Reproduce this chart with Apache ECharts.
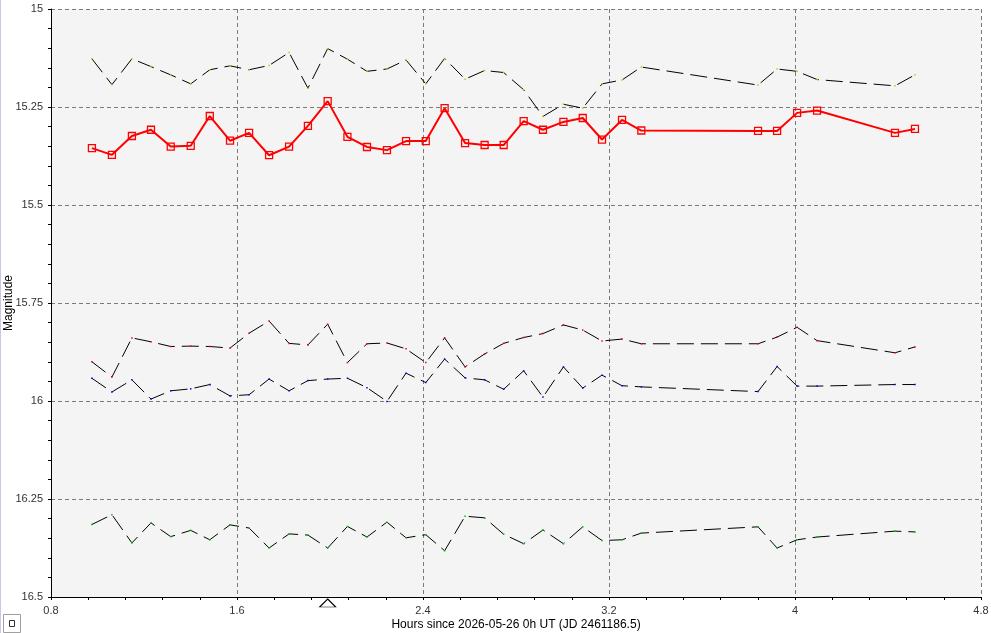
<!DOCTYPE html>
<html>
<head>
<meta charset="utf-8">
<script src="https://cdn.jsdelivr.net/npm/echarts@6/dist/echarts.min.js"></script>
<style>
  html, body { margin: 0; padding: 0; background: #ffffff; }
  #chart { width: 991px; height: 633px; }
</style>
</head>
<body>
<div id="chart"></div>
<script>
// hours since 2026-05-26 0h UT
const hours = [0.976, 1.062, 1.148, 1.230, 1.315, 1.401, 1.483, 1.570, 1.652, 1.738, 1.824, 1.905,
  1.990, 2.075, 2.159, 2.245, 2.327, 2.412, 2.493, 2.581, 2.665, 2.747, 2.833, 2.916,
  3.004, 3.087, 3.170, 3.256, 3.339, 3.841, 3.923, 4.009, 4.095, 4.430, 4.516];

// target star (red)
const target = [15.355, 15.372, 15.324, 15.308, 15.351, 15.349, 15.273, 15.336, 15.316, 15.373, 15.351, 15.298,
  15.235, 15.326, 15.352, 15.360, 15.337, 15.337, 15.253, 15.342, 15.347, 15.347, 15.286, 15.308,
  15.288, 15.278, 15.333, 15.283, 15.310, 15.311, 15.311, 15.265, 15.259, 15.316, 15.306];

// comparison / check stars
const comp1 = [15.127, 15.193, 15.127, 15.147, 15.168, 15.191, 15.155, 15.145, 15.155, 15.144, 15.111, 15.202,
  15.101, 15.128, 15.159, 15.153, 15.130, 15.191, 15.126, 15.179, 15.157, 15.162, 15.206, 15.274,
  15.243, 15.253, 15.191, 15.181, 15.148, 15.194, 15.153, 15.159, 15.180, 15.196, 15.168];
const comp2 = [15.900, 15.939, 15.839, 15.849, 15.861, 15.860, 15.861, 15.865, 15.827, 15.796, 15.853, 15.857,
  15.804, 15.902, 15.854, 15.852, 15.867, 15.902, 15.839, 15.913, 15.880, 15.853, 15.838, 15.828,
  15.806, 15.819, 15.847, 15.842, 15.854, 15.854, 15.837, 15.812, 15.846, 15.877, 15.862];
const comp3 = [15.942, 15.977, 15.946, 15.995, 15.974, 15.969, 15.958, 15.987, 15.984, 15.944, 15.974, 15.948,
  15.944, 15.942, 15.966, 16.001, 15.929, 15.953, 15.893, 15.941, 15.946, 15.970, 15.923, 15.990,
  15.913, 15.967, 15.934, 15.961, 15.964, 15.976, 15.912, 15.962, 15.962, 15.958, 15.958];
const comp4 = [16.315, 16.290, 16.362, 16.311, 16.346, 16.330, 16.354, 16.316, 16.324, 16.375, 16.339, 16.342,
  16.375, 16.320, 16.347, 16.309, 16.349, 16.341, 16.382, 16.294, 16.298, 16.340, 16.364, 16.329,
  16.364, 16.321, 16.356, 16.354, 16.337, 16.321, 16.375, 16.354, 16.347, 16.332, 16.334];

const markerHour = 1.99;

function pairs(ys) {
  return hours.map((h, i) => [h, ys[i]]);
}

function compSeries(ys, dotColor) {
  return {
    type: "line",
    data: pairs(ys),
    symbol: "rect",
    symbolSize: 1.5,
    showAllSymbol: true,
    silent: true,
    itemStyle: { color: dotColor },
    lineStyle: { color: "#000000", width: 1, type: [17, 7] },
  };
}

const chart = echarts.init(document.getElementById("chart"));

const font = "Liberation Sans, Arial, sans-serif";

let option = {
  animation: false,
  backgroundColor: "#ffffff",
  grid: {
    left: 51,
    right: 10,
    top: 9,
    bottom: 36,
    containLabel: false,
    outerBoundsMode: "none",
    show: true,
    backgroundColor: "#f4f4f4",
    borderWidth: 0,
  },
  xAxis: {
    type: "value",
    min: 0.8,
    max: 4.8,
    interval: 0.8,
    name: "Hours since 2026-05-26 0h UT (JD 2461186.5)",
    nameLocation: "middle",
    nameGap: 22,
    nameMoveOverlap: false,
    nameTextStyle: { color: "#000", fontSize: 12, fontFamily: font, verticalAlign: "top" },
    axisLine: { show: true, onZero: false, lineStyle: { color: "#000", width: 1 } },
    axisTick: { show: true, length: 3, lineStyle: { color: "#000" } },
    minorTick: { show: true, splitNumber: 5, length: 3, lineStyle: { color: "#000" } },
    axisLabel: { color: "#333", fontSize: 11, fontFamily: font, margin: 8 },
    splitLine: { show: true, lineStyle: { color: "#7a7a7a", width: 1, type: [4, 3] } },
  },
  yAxis: {
    type: "value",
    inverse: true,
    min: 15,
    max: 16.5,
    interval: 0.25,
    name: "Magnitude",
    nameLocation: "middle",
    nameGap: 42,
    nameMoveOverlap: false,
    nameTextStyle: { color: "#000", fontSize: 12, fontFamily: font, verticalAlign: "middle" },
    axisLine: { show: true, onZero: false, lineStyle: { color: "#000", width: 1 } },
    axisTick: { show: true, length: 3, lineStyle: { color: "#000" } },
    minorTick: { show: true, splitNumber: 5, length: 3, lineStyle: { color: "#000" } },
    axisLabel: { color: "#333", fontSize: 11, fontFamily: font, margin: 8 },
    splitLine: { show: true, lineStyle: { color: "#7a7a7a", width: 1, type: [4, 3] } },
  },
  graphic: [
    {
      type: "line",
      shape: { x1: 0.5, y1: 0, x2: 0.5, y2: 633 },
      style: { stroke: "#c9c9e0", lineWidth: 1 },
    },
    {
      type: "rect",
      shape: { x: 3.5, y: 614.5, width: 17, height: 18 },
      style: { fill: "#ffffff", stroke: "#a0a0a0", lineWidth: 1 },
    },
    {
      type: "rect",
      shape: { x: 9.5, y: 620.5, width: 5, height: 6 },
      style: { fill: "none", stroke: "#333", lineWidth: 1 },
    },
  ],
  series: [
    compSeries(comp1, "#c8c800"),
    compSeries(comp2, "#ff0000"),
    compSeries(comp3, "#0000ff"),
    compSeries(comp4, "#00c000"),
    {
      name: "Target",
      type: "line",
      data: pairs(target),
      symbol: "rect",
      symbolSize: 7,
      showAllSymbol: true,
      z: 5,
      itemStyle: { color: "rgba(0,0,0,0)", borderColor: "#ff0000", borderWidth: 1.3 },
      lineStyle: { color: "#ff0000", width: 2 },
      markPoint: {
        silent: true,
        symbol: "triangle",
        symbolSize: [16, 8],
        symbolOffset: [0, 6],
        itemStyle: { color: "#ffffff", borderColor: "#000", borderWidth: 1 },
        label: { show: false },
        data: [{ coord: [markerHour, 16.5] }],
      },
    },
  ],
};

chart.setOption(option);
</script>
</body>
</html>
